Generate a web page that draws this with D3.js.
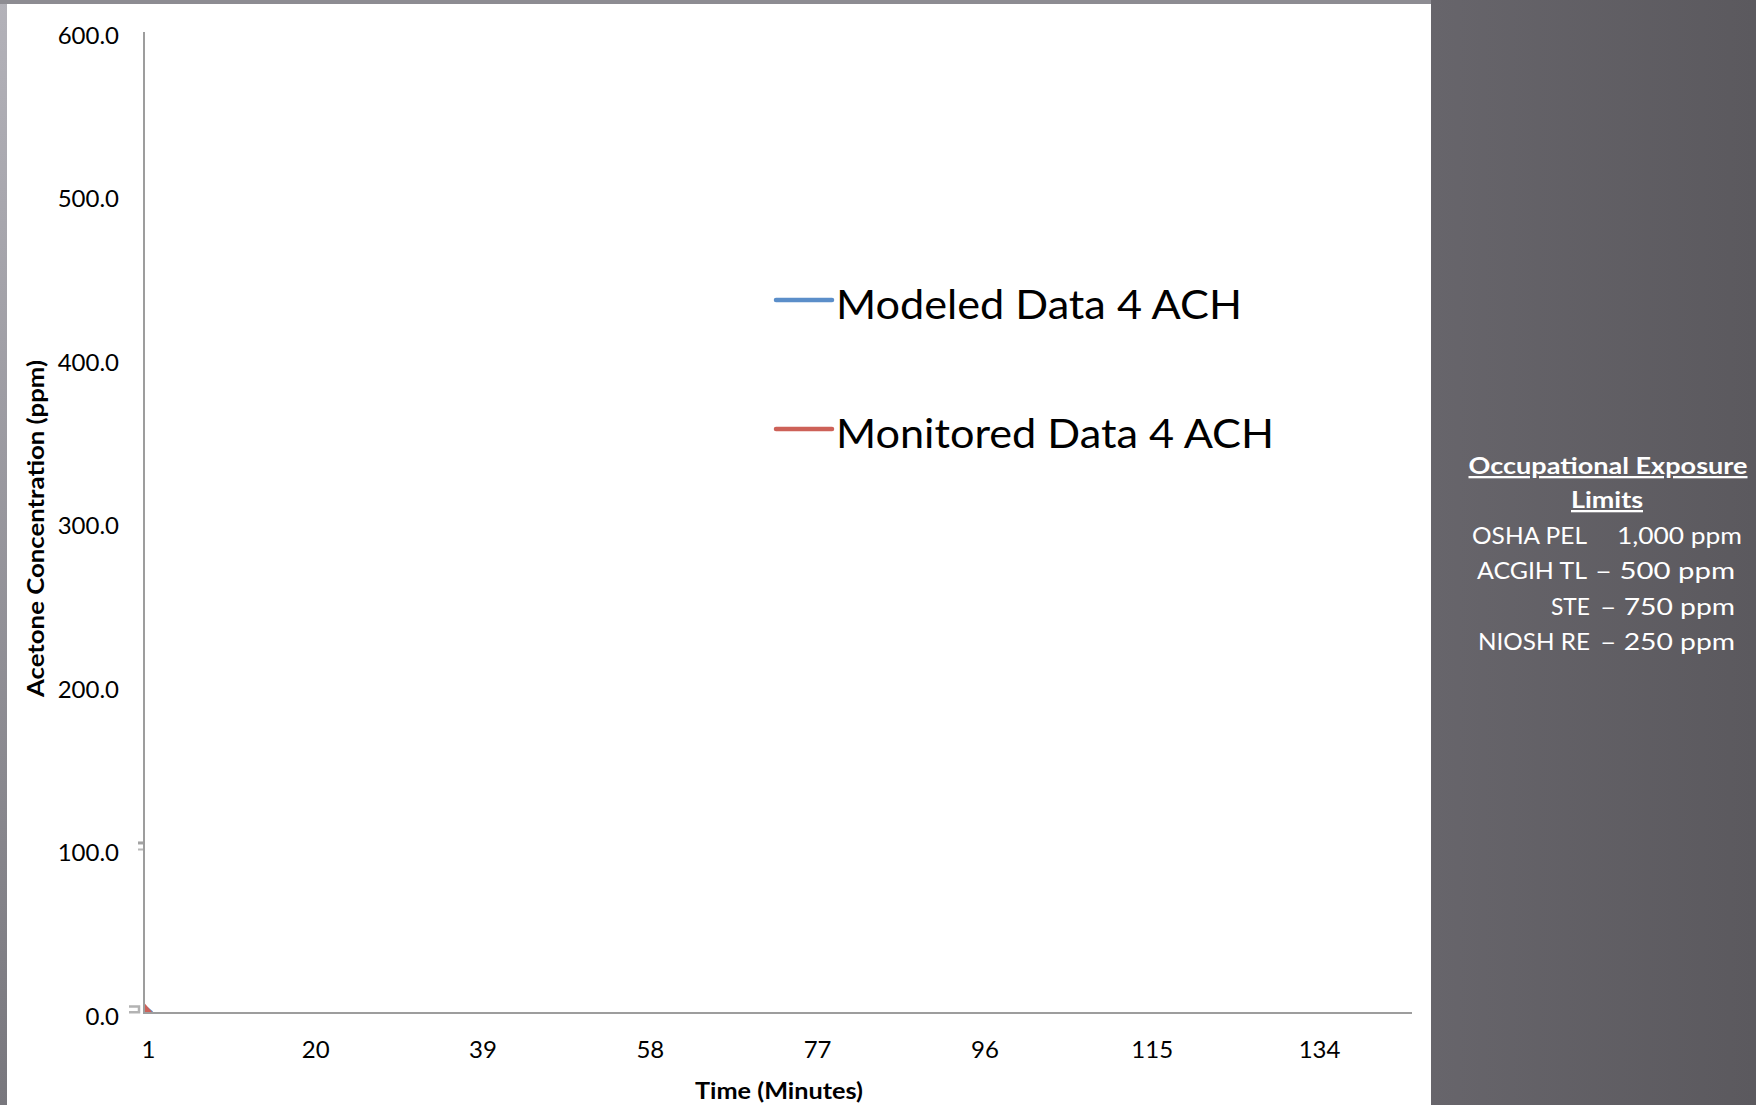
<!DOCTYPE html>
<html><head><meta charset="utf-8">
<script src="https://cdn.jsdelivr.net/npm/d3@7"></script>
<style>
html,body{margin:0;padding:0;width:1756px;height:1105px;overflow:hidden;
 background:linear-gradient(90deg,#b2b1b8 0px,#9f9ea5 7px,#67656b 1431px,#5b595e 1756px);}
svg{display:block}
text{font-variant-numeric:lining-nums;font-feature-settings:"lnum" 1;}
</style></head>
<body>
<svg id="c" width="1756" height="1105"></svg>
<script>
// ---- data ----
const minutes = d3.range(1, 145);             // category axis: minutes 1..144
const xTickLabels = ["1","20","39","58","77","96","115","134"];
const yTicks = [0,100,200,300,400,500,600];
const modeled = [5.5, 1.0];                    // Modeled Data 4 ACH (visible points)
const monitored = [6.4, 0.0];                  // Monitored Data 4 ACH
const seriesNames = ["Modeled Data 4 ACH","Monitored Data 4 ACH"];
const seriesColors = ["#5b8ec9","#cd6158"];
const limitAgencies = ["OSHA PEL","ACGIH TL","STE","NIOSH RE"];
const limitValues = ["1,000 ppm","– 500 ppm","– 750 ppm","– 250 ppm"];

// ---- layout (text widths matched to the reference's font) ----
const legendWidths = [406, 438];
const agencyWidths = [115, 110, 39, 112];
const valueWidths = [125, 140, 135, 135];
const rowsY = [544,579,615,650];
const agencyEnd = [1587,1587,1590,1590];
const valueEnd = [1742,1735,1735,1735];

const svg = d3.select("#c");
const FONT = "Lato, 'Open Sans', sans-serif";

// left strip vertical shading
const defs = svg.append("defs");
const g1 = defs.append("linearGradient").attr("id","lstrip").attr("x1",0).attr("y1",0).attr("x2",0).attr("y2",1);
g1.append("stop").attr("offset","0%").attr("stop-color","#b3b2b9");
g1.append("stop").attr("offset","100%").attr("stop-color","#78777d");
svg.append("rect").attr("x",0).attr("y",0).attr("width",7).attr("height",1105).attr("fill","url(#lstrip)");
svg.append("rect").attr("x",0).attr("y",0).attr("width",1431).attr("height",4).attr("fill","#8d8c92");

// white chart area
svg.append("rect").attr("x",7).attr("y",4).attr("width",1424).attr("height",1101).attr("fill","#ffffff");

const x = d3.scaleBand().domain(minutes).range([144,1412]).padding(0);
const y = d3.scaleLinear().domain([0,600]).range([1013,32]);

// data marks (areas drawn from category start)
const area = d3.area().x((d,i)=>x(minutes[i])).y0(y(0)).y1(d=>y(d));
svg.append("path").datum(modeled).attr("d",area).attr("fill",seriesColors[0]);
svg.append("path").datum(monitored).attr("d",area).attr("fill",seriesColors[1]);

// small gray artifacts near the axis
svg.append("rect").attr("x",138).attr("y",y(104)-1.5).attr("width",6).attr("height",3).attr("fill","#a3a3a3");
svg.append("rect").attr("x",138).attr("y",y(100)-1).attr("width",6).attr("height",2).attr("fill","#b8b8b8");
svg.append("path").attr("d",`M129,${y(4)}H139V${y(0.5)}H129`).attr("fill","none").attr("stroke","#b3b3b3").attr("stroke-width",2.5);

// axes
const axisColor = "#9d9d9d";
svg.append("line").attr("x1",144).attr("x2",144).attr("y1",y(600)).attr("y2",y(0)+1).attr("stroke",axisColor).attr("stroke-width",2);
svg.append("line").attr("x1",143).attr("x2",1412).attr("y1",y(0)).attr("y2",y(0)).attr("stroke",axisColor).attr("stroke-width",2.2);

// y tick labels
svg.append("g").selectAll("text").data(yTicks).join("text")
  .attr("x",119).attr("y",d=>y(d)+3).attr("dy","0.36em").attr("text-anchor","end")
  .attr("font-family",FONT).attr("font-size",24).attr("fill","#000")
  .text(d=>d3.format(".1f")(d));

// x tick labels
svg.append("g").selectAll("text").data(xTickLabels).join("text")
  .attr("x",d=>x(+d)+x.bandwidth()/2).attr("y",1049).attr("dy","0.36em").attr("text-anchor","middle")
  .attr("font-family",FONT).attr("font-size",24).attr("fill","#000")
  .text(d=>d);

// axis titles
svg.append("text").attr("x",779).attr("y",1099).attr("text-anchor","middle")
  .attr("font-family",FONT).attr("font-weight","bold").attr("font-size",22).attr("fill","#000")
  .attr("textLength",168).attr("lengthAdjust","spacingAndGlyphs")
  .text("Time (Minutes)");
svg.append("text").attr("transform","translate(44,528.5) rotate(-90)").attr("text-anchor","middle")
  .attr("font-family",FONT).attr("font-weight","bold").attr("font-size",22).attr("fill","#000")
  .attr("textLength",337).attr("lengthAdjust","spacingAndGlyphs")
  .text("Acetone Concentration (ppm)");

// legend
const leg = svg.append("g").selectAll("g").data(seriesNames).join("g")
  .attr("transform",(d,i)=>`translate(776,${300+i*129})`);
leg.append("line").attr("x1",0).attr("x2",56).attr("y1",0).attr("y2",0)
  .attr("stroke",(d,i)=>seriesColors[i]).attr("stroke-width",4.5).attr("stroke-linecap","round");
leg.append("text").attr("x",60).attr("y",19).attr("font-family",FONT).attr("font-size",41).attr("fill","#000")
  .attr("textLength",(d,i)=>legendWidths[i]).attr("lengthAdjust","spacingAndGlyphs").text(d=>d);

// right panel: occupational exposure limits
const rp = svg.append("g").attr("font-family",FONT).attr("fill","#ffffff");
rp.append("text").attr("x",1608).attr("y",474).attr("text-anchor","middle").attr("font-weight","bold")
  .attr("font-size",23).attr("text-decoration","underline")
  .attr("textLength",279).attr("lengthAdjust","spacingAndGlyphs").text("Occupational Exposure");
rp.append("text").attr("x",1607).attr("y",508).attr("text-anchor","middle").attr("font-weight","bold")
  .attr("font-size",23).attr("text-decoration","underline")
  .attr("textLength",72).attr("lengthAdjust","spacingAndGlyphs").text("Limits");
rp.append("g").selectAll("text").data(limitAgencies).join("text")
  .attr("x",(d,i)=>agencyEnd[i]).attr("y",(d,i)=>rowsY[i]).attr("text-anchor","end")
  .attr("font-size",24).attr("textLength",(d,i)=>agencyWidths[i]).attr("lengthAdjust","spacingAndGlyphs").text(d=>d);
rp.append("g").selectAll("text").data(limitValues).join("text")
  .attr("x",(d,i)=>valueEnd[i]).attr("y",(d,i)=>rowsY[i]).attr("text-anchor","end")
  .attr("font-size",24).attr("textLength",(d,i)=>valueWidths[i]).attr("lengthAdjust","spacingAndGlyphs").text(d=>d);
</script>
</body></html>
